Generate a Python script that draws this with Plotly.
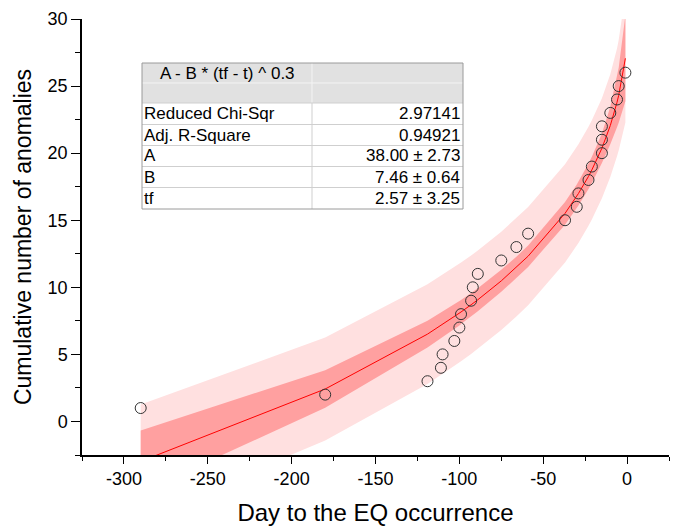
import plotly.graph_objects as go

# ---- data ----
day = [-290, -180, -119, -111, -110, -103, -100, -99, -93, -92, -89, -75, -66, -59,
       -37, -30, -29, -23, -21, -15, -15, -15, -10, -6, -5, -1]
count = list(range(1, 27))

fit_day = [-290, -180, -119, -111, -110, -103, -100, -99, -93, -92, -89, -75, -66, -59,
           -37, -30, -29, -23, -21, -15, -10, -6, -5, -1]
fit_val = [-2.98, 2.42, 6.51, 7.15, 7.23, 7.81, 8.07, 8.16, 8.70, 8.79, 9.07, 10.48,
           11.48, 12.32, 15.51, 16.79, 16.99, 18.27, 18.75, 20.37, 22.06, 23.79, 24.31, 27.07]
conf_lo = [-5.28, 1.02, 5.51, 6.18, 6.27, 6.88, 7.16, 7.26, 7.82, 7.92, 8.21, 9.66,
           10.68, 11.52, 14.67, 15.91, 16.10, 17.32, 17.77, 19.27, 20.66, 21.94, 22.26, 23.87]
conf_hi = [-0.68, 3.82, 7.51, 8.12, 8.19, 8.74, 8.98, 9.06, 9.58, 9.66, 9.93, 11.30,
           12.28, 13.12, 16.35, 17.67, 17.88, 19.22, 19.73, 21.47, 23.46, 25.64, 26.36, 30.27]
pred_lo = [-7.23, -1.41, 2.80, 3.45, 3.53, 4.12, 4.38, 4.48, 5.02, 5.12, 5.40, 6.82,
           7.82, 8.66, 11.84, 13.11, 13.31, 14.58, 15.05, 16.64, 18.23, 19.77, 20.19, 22.28]
pred_hi = [1.27, 6.25, 10.22, 10.85, 10.93, 11.50, 11.76, 11.84, 12.38, 12.46, 12.74, 14.14,
           15.14, 15.98, 19.18, 20.47, 20.67, 21.96, 22.45, 24.10, 25.89, 27.81, 28.43, 31.86]

x_tickvals = [-300, -250, -200, -150, -100, -50, 0]
x_ticktext = ["-300", "-250", "-200", "-150", "-100", "-50", "0"]

table_header = "A - B * (tf - t) ^ 0.3"
table_names = ["Reduced Chi-Sqr", "Adj. R-Square", "A", "B", "tf"]
table_values = ["2.97141", "0.94921", "38.00 ± 2.73", "7.46 ± 0.64", "2.57 ± 3.25"]

# ---- layout geometry (pixels) ----
W, H = 676, 528
ML, MR, MT, MB = 82, 7, 19, 73
PW, PH = W - ML - MR, H - MT - MB


def px(x):
    return (x - ML) / PW


def py(y):
    return (H - MB - y) / PH


FONT = "Liberation Sans, Arial, sans-serif"

fig = go.Figure()

fig.add_trace(go.Scatter(x=fit_day, y=pred_lo, mode="lines", line=dict(width=0),
                         hoverinfo="skip", showlegend=False))
fig.add_trace(go.Scatter(x=fit_day, y=pred_hi, mode="lines", line=dict(width=0),
                         fill="tonexty", fillcolor="#ffe0e0", hoverinfo="skip", showlegend=False))
fig.add_trace(go.Scatter(x=fit_day, y=conf_lo, mode="lines", line=dict(width=0),
                         hoverinfo="skip", showlegend=False))
fig.add_trace(go.Scatter(x=fit_day, y=conf_hi, mode="lines", line=dict(width=0),
                         fill="tonexty", fillcolor="#ffa0a0", hoverinfo="skip", showlegend=False))
fig.add_trace(go.Scatter(x=fit_day, y=fit_val, mode="lines", line=dict(color="#ff0000", width=1),
                         showlegend=False))
fig.add_trace(go.Scatter(x=day, y=count, mode="markers",
                         marker=dict(symbol="circle-open", size=11, color="#333333",
                                     line=dict(width=1)),
                         showlegend=False))

# ---- fit table ----
cols = [142, 312, 463]
rows = [63, 83, 103, 124.5, 145.5, 166.5, 187.5, 209]
shapes = []
shapes.append(dict(type="rect", xref="paper", yref="paper", x0=px(cols[0]), x1=px(cols[2]),
                   y0=py(rows[2]), y1=py(rows[0]), fillcolor="#e1e1e1", line=dict(width=0)))
shapes.append(dict(type="rect", xref="paper", yref="paper", x0=px(cols[0]), x1=px(cols[2]),
                   y0=py(rows[-1]), y1=py(rows[2]), fillcolor="#ffffff", line=dict(width=0)))
shapes.append(dict(type="line", xref="paper", yref="paper", x0=px(cols[0]), x1=px(cols[2]),
                   y0=py(rows[1]), y1=py(rows[1]), line=dict(color="#f4f4f4", width=1)))
shapes.append(dict(type="line", xref="paper", yref="paper", x0=px(cols[1]), x1=px(cols[1]),
                   y0=py(rows[2]), y1=py(rows[0]), line=dict(color="#f4f4f4", width=1)))
for r in rows[2:-1]:
    shapes.append(dict(type="line", xref="paper", yref="paper", x0=px(cols[0]), x1=px(cols[2]),
                       y0=py(r), y1=py(r), line=dict(color="#cfcfcf", width=1)))
shapes.append(dict(type="line", xref="paper", yref="paper", x0=px(cols[1]), x1=px(cols[1]),
                   y0=py(rows[-1]), y1=py(rows[2]), line=dict(color="#cfcfcf", width=1)))
shapes.append(dict(type="rect", xref="paper", yref="paper", x0=px(cols[0]), x1=px(cols[2]),
                   y0=py(rows[-1]), y1=py(rows[0]), line=dict(color="#9a9a9a", width=1)))

annotations = []
annotations.append(dict(xref="paper", yref="paper", x=px((cols[0] + cols[1]) / 2),
                        y=py((rows[0] + rows[1]) / 2), text=table_header, showarrow=False,
                        xanchor="center", yanchor="middle",
                        font=dict(family=FONT, size=17, color="black")))
for i, (n, v) in enumerate(zip(table_names, table_values)):
    yc = py((rows[i + 2] + rows[i + 3]) / 2)
    annotations.append(dict(xref="paper", yref="paper", x=px(cols[0]), y=yc, text=n,
                            showarrow=False, xanchor="left", yanchor="middle",
                            font=dict(family=FONT, size=17, color="black")))
    annotations.append(dict(xref="paper", yref="paper", x=px(cols[2] - 1), y=yc, text=v,
                            showarrow=False, xanchor="right", yanchor="middle",
                            font=dict(family=FONT, size=17, color="black")))

fig.update_layout(
    width=W, height=H,
    margin=dict(l=ML, r=MR, t=MT, b=MB),
    paper_bgcolor="white", plot_bgcolor="white",
    font=dict(family=FONT, color="black"),
    shapes=shapes, annotations=annotations,
    showlegend=False,
)
fig.update_xaxes(
    range=[-325, 25], tickmode="array", tickvals=x_tickvals, ticktext=x_ticktext,
    ticks="outside", ticklen=7, tickwidth=1.2,
    tickcolor="black", showline=True, linecolor="black", linewidth=1.5,
    showgrid=False, zeroline=False, tickfont=dict(size=18, family=FONT),
    minor=dict(dtick=25, tick0=0, ticks="outside", ticklen=4, tickcolor="black", tickwidth=1.2),
    title=dict(text="Day to the EQ occurrence", font=dict(size=24, family=FONT), standoff=16),
)
fig.update_yaxes(
    range=[-2.5, 30], tick0=0, dtick=5, ticks="outside", ticklen=9, tickwidth=1.2,
    tickcolor="black", showline=True, linecolor="black", linewidth=1.5,
    showgrid=False, zeroline=False, tickfont=dict(size=18, family=FONT),
    minor=dict(dtick=2.5, tick0=0, ticks="outside", ticklen=5, tickcolor="black", tickwidth=1.2),
    title=dict(text="Cumulative number of anomalies", font=dict(size=23, family=FONT), standoff=10),
)

fig.write_html("out.html")
